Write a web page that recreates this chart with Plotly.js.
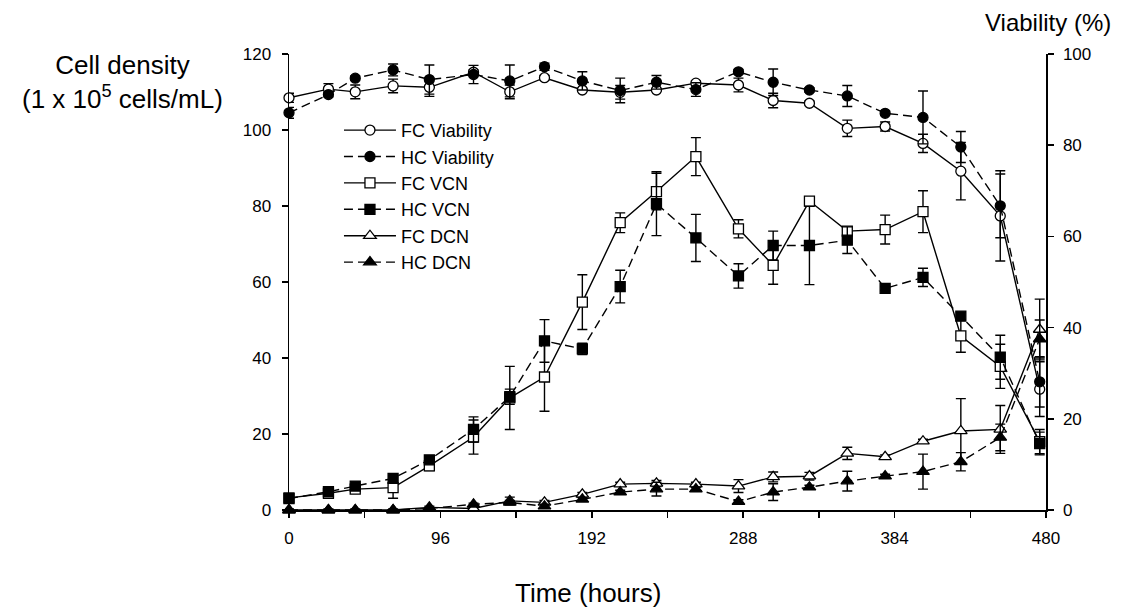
<!DOCTYPE html>
<html>
<head>
<meta charset="utf-8">
<script src="https://cdn.plot.ly/plotly-3.0.1.min.js"></script>
<style>html,body{margin:0;padding:0;background:#fff;}#chart{width:1132px;height:611px;}</style>
</head>
<body>
<div id="chart"></div>
<script>
// Time points (hours)
const times = [0, 25, 42, 66, 89, 117, 140, 162, 186, 210, 233, 258, 285, 307, 330, 354, 378, 402, 426, 451, 476];

// Viability (%), right axis
const fcViability    = [90.4, 92.3, 91.7, 93.0, 92.7, 96.0, 91.7, 94.8, 92.1, 91.6, 92.1, 93.6, 93.2, 89.8, 89.2, 83.7, 84.1, 80.4, 74.3, 64.5, 26.5];
const fcViabilityErr = [1.0, 1.2, 1.5, 1.5, 2.0, 0.5, 1.5, 0.5, 0.3, 1.5, 0.3, 0.5, 1.5, 1.6, 0.5, 1.8, 1.0, 2.0, 6.3, 9.9, 6.0];
const hcViability    = [87.1, 91.1, 94.7, 96.5, 94.4, 95.5, 94.1, 97.2, 94.1, 92.0, 93.8, 92.2, 96.1, 93.8, 92.1, 90.8, 87.0, 86.1, 79.6, 66.7, 28.1];
const hcViabilityErr = [1.2, 0.5, 0.5, 1.3, 3.2, 2.0, 3.5, 0.8, 2.0, 2.7, 1.5, 1.5, 0.5, 2.9, 0.5, 2.3, 0.5, 5.8, 3.4, 7.0, 5.5];

// Viable cell number (1 x 10^5 cells/mL), left axis
const fcVCN    = [3.2, 4.4, 5.5, 5.9, 11.6, 19.2, 29.5, 35.0, 54.7, 75.6, 83.8, 93.0, 74.0, 64.4, 81.3, 73.4, 73.8, 78.5, 45.8, 37.8, 18.0];
const fcVCNErr = [0.5, 0.7, 0.8, 2.8, 1.2, 4.5, 8.3, 9.0, 7.2, 2.6, 4.8, 5.0, 2.4, 5.0, 0.9, 1.0, 3.8, 5.5, 4.3, 5.8, 3.2];
const hcVCN    = [3.0, 4.8, 6.3, 8.3, 13.2, 21.2, 29.8, 44.5, 42.4, 58.8, 80.6, 71.6, 61.6, 69.6, 69.6, 71.0, 58.3, 61.2, 51.0, 40.2, 17.5];
const hcVCNErr = [0.3, 0.5, 0.5, 0.7, 0.8, 3.3, 2.0, 5.6, 1.5, 4.3, 8.4, 6.2, 3.2, 3.8, 10.3, 3.5, 0.5, 2.4, 1.0, 5.8, 3.0];

// Dead cell number (1 x 10^5 cells/mL), left axis
const fcDCN    = [0, 0, 0, 0, 0.7, 0.4, 2.4, 2.0, 4.1, 6.8, 7.0, 6.8, 6.3, 8.7, 8.9, 14.9, 14.0, 18.1, 20.8, 21.2, 47.5];
const fcDCNErr = [0.2, 0.2, 0.2, 0.2, 0.3, 0.3, 1.0, 0.5, 0.5, 0.5, 0.8, 0.5, 1.7, 1.3, 1.0, 1.6, 0.5, 0.5, 8.5, 6.3, 8.0];
const hcDCN    = [0, 0, 0, 0, 0.4, 1.5, 2.0, 1.0, 2.8, 4.7, 5.5, 5.5, 2.2, 4.7, 6.0, 7.6, 8.9, 10.1, 12.7, 19.1, 45.0];
const hcDCNErr = [0.2, 0.2, 0.2, 0.2, 0.2, 0.3, 0.5, 0.5, 0.5, 0.5, 1.8, 0.5, 0.5, 2.2, 0.5, 2.6, 0.5, 4.6, 2.4, 3.5, 5.0];

const FONT = 'Liberation Sans, Arial, sans-serif';

function series(name, x, y, err, filled, symbol, dashed, yaxis) {
  return {
    type: 'scatter', mode: 'lines+markers', name: name, x: x, y: y, yaxis: yaxis,
    cliponaxis: false,
    line: {color: '#000', width: 1.4, dash: dashed ? '9px,5px' : 'solid'},
    marker: {symbol: symbol, size: symbol === 'triangle-up' ? 11 : 10,
             color: filled ? '#000' : '#fff', line: {color: '#000', width: 1.3}},
    error_y: {type: 'data', array: err, visible: true, color: '#000', thickness: 1.4, width: 5}
  };
}

const data = [
  series('FC Viability', times, fcViability, fcViabilityErr, false, 'circle', false, 'y2'),
  series('HC Viability', times, hcViability, hcViabilityErr, true, 'circle', true, 'y2'),
  series('FC VCN', times, fcVCN, fcVCNErr, false, 'square', false, 'y'),
  series('HC VCN', times, hcVCN, hcVCNErr, true, 'square', true, 'y'),
  series('FC DCN', times, fcDCN, fcDCNErr, false, 'triangle-up', false, 'y'),
  series('HC DCN', times, hcDCN, hcDCNErr, true, 'triangle-up', true, 'y')
];

const axisCommon = {
  showgrid: false, zeroline: false, showline: true, linecolor: '#000', linewidth: 1.5,
  ticks: 'outside', ticklen: 6, tickwidth: 1.5, tickcolor: '#000',
  tickfont: {family: FONT, size: 17, color: '#000'}
};

const layout = {
  width: 1132, height: 611,
  margin: {l: 289, r: 86, t: 54, b: 101},
  paper_bgcolor: '#fff', plot_bgcolor: '#fff',
  font: {family: FONT, color: '#000'},
  xaxis: Object.assign({}, axisCommon, {range: [0, 480], tickmode: 'linear', tick0: 0, dtick: 96,
    ticklabelstandoff: 6,
    minor: {tickmode: 'linear', tick0: 0, dtick: 48, ticks: 'outside', ticklen: 6, tickwidth: 1.5, tickcolor: '#000', showgrid: false}}),
  yaxis: Object.assign({}, axisCommon, {range: [0, 120], tickmode: 'linear', tick0: 0, dtick: 20, ticklabelstandoff: 7}),
  yaxis2: Object.assign({}, axisCommon, {range: [0, 100], tickmode: 'linear', tick0: 0, dtick: 20,
    overlaying: 'y', side: 'right', anchor: 'x', ticklabelstandoff: 6}),
  showlegend: true,
  legend: {x: 0.066, y: 0.873, xanchor: 'left', yanchor: 'top', bgcolor: 'rgba(0,0,0,0)',
           font: {family: FONT, size: 18, color: '#000'}, itemwidth: 52, traceorder: 'normal'},
  annotations: [
    {text: 'Cell density<br>(1 x 10<sup>5</sup> cells/mL)', xref: 'paper', yref: 'paper',
     x: -0.2206, y: 0.9386, xanchor: 'center', yanchor: 'middle', showarrow: false,
     font: {family: FONT, size: 26, color: '#000'}},
    {text: 'Viability (%)', xref: 'paper', yref: 'paper', x: 1.002, y: 1.068,
     xanchor: 'center', yanchor: 'middle', showarrow: false,
     font: {family: FONT, size: 24, color: '#000'}},
    {text: 'Time (hours)', xref: 'paper', yref: 'paper', x: 0.395, y: -0.182,
     xanchor: 'center', yanchor: 'middle', showarrow: false,
     font: {family: FONT, size: 26, color: '#000'}}
  ]
};

Plotly.newPlot('chart', data, layout, {displayModeBar: false, staticPlot: true});
</script>
</body>
</html>
